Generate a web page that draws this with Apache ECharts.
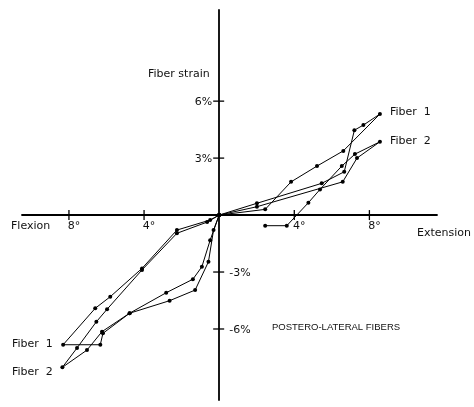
<!DOCTYPE html>
<html>
<head>
<meta charset="utf-8">
<script src="https://cdn.jsdelivr.net/npm/echarts@6/dist/echarts.min.js"></script>
<style>
html,body{margin:0;padding:0;background:#fff;}
#chart{width:474px;height:407px;}
</style>
</head>
<body>
<div id="chart"></div>
<script>
// Fiber 1: extension loop then flexion loop (x = degrees, negative = flexion; y = strain %)
var fiber1 = [[0,0],[2.45,0.30],[3.83,1.75],[5.21,2.58],[6.61,3.38],[8.56,5.32],[7.68,4.74],[7.20,4.47],[6.66,2.28],[5.46,1.67],[2.01,0.62],[0,0],
  [-0.48,-0.26],[-2.25,-0.79],[-4.11,-2.81],[-5.80,-4.30],[-6.60,-4.91],[-8.31,-6.83],[-6.33,-6.83],[-6.19,-6.23],[-4.77,-5.17],[-2.82,-4.09],[-1.40,-3.38],[-0.92,-2.72],[-0.48,-1.32],[0,0]];
var fiber2 = [[2.45,-0.56],[3.60,-0.56],[4.75,0.65],[5.37,1.35],[6.53,2.58],[7.23,3.21],[8.56,3.86],[7.34,3.00],[6.58,1.75],[2.01,0.44],[0,0],
  [-0.64,-0.37],[-2.25,-0.96],[-4.11,-2.89],[-5.97,-4.96],[-6.54,-5.62],[-7.57,-7.00],[-8.35,-8.02],[-7.04,-7.11],[-6.24,-6.14],[-4.77,-5.17],[-2.64,-4.51],[-1.28,-3.95],[-0.57,-2.46],[-0.30,-0.79],[0,0]];
var xTicks = [-8,-4,4,8];
var xTickLabels = ['8°','4°','4°','8°'];
var yTicks = [6,3,-3,-6];
var yTickLabels = ['6%','3%','-3%','-6%'];

var FONT = '"DejaVu Sans", "Liberation Sans", Arial, sans-serif';
var chart = echarts.init(document.getElementById('chart'), null, {renderer:'canvas'});

function tickSeries(vals, labels, isX){
  return {
    type:'custom', silent:true, z:5,
    data: vals.map(function(v,i){return [v,i];}),
    renderItem: function(params, api){
      var v = api.value(0), i = api.value(1);
      var p = isX ? api.coord([v,0]) : api.coord([0,v]);
      var children = [];
      if(isX){
        children.push({type:'line', shape:{x1:p[0],y1:p[1]-5,x2:p[0],y2:p[1]+5}, style:{stroke:'#000',lineWidth:1.3}});
        children.push({type:'text', style:{text:labels[i], x:p[0]+5, y:p[1]+11, textAlign:'center', textVerticalAlign:'middle', font:'11px '+FONT, fill:'#111'}});
      } else {
        children.push({type:'line', shape:{x1:p[0]-6,y1:p[1],x2:p[0]+5,y2:p[1]}, style:{stroke:'#000',lineWidth:1.3}});
        if(v>0){
          children.push({type:'text', style:{text:labels[i], x:p[0]-7, y:p[1]+1, textAlign:'right', textVerticalAlign:'middle', font:'11px '+FONT, fill:'#111'}});
        } else {
          children.push({type:'text', style:{text:labels[i], x:p[0]+10, y:p[1]+1, textAlign:'left', textVerticalAlign:'middle', font:'11px '+FONT, fill:'#111'}});
        }
      }
      return {type:'group', children:children};
    }
  };
}

var lineStyle = {color:'#000', width:1};
var option = {
  animation:false,
  backgroundColor:'#fff',
  grid:{left:22, right:37, top:10, bottom:7, containLabel:false},
  xAxis:{type:'value', min:-10.5, max:11.6, axisLine:{onZero:true, lineStyle:{color:'#000', width:1.8}}, axisTick:{show:false}, axisLabel:{show:false}, splitLine:{show:false}},
  yAxis:{type:'value', min:-9.74, max:10.8, axisLine:{onZero:true, lineStyle:{color:'#000', width:1.8}}, axisTick:{show:false}, axisLabel:{show:false}, splitLine:{show:false}},
  series:[
    {name:'Fiber 1', type:'line', data:fiber1, symbol:'circle', symbolSize:4, showSymbol:true, itemStyle:{color:'#000'}, lineStyle:lineStyle, z:3},
    {name:'Fiber 2', type:'line', data:fiber2, symbol:'circle', symbolSize:4, showSymbol:true, itemStyle:{color:'#000'}, lineStyle:lineStyle, z:3},
    tickSeries(xTicks, xTickLabels, true),
    tickSeries(yTicks, yTickLabels, false)
  ],
  graphic:[
    {type:'text', left:148, top:69, style:{text:'Fiber strain', font:'11px '+FONT, fill:'#111'}},
    {type:'text', left:390, top:107, style:{text:'Fiber  1', font:'11px '+FONT, fill:'#111'}},
    {type:'text', left:390, top:136, style:{text:'Fiber  2', font:'11px '+FONT, fill:'#111'}},
    {type:'text', left:11, top:221, style:{text:'Flexion', font:'11px '+FONT, fill:'#111'}},
    {type:'text', left:417, top:228, style:{text:'Extension', font:'11px '+FONT, fill:'#111'}},
    {type:'text', left:272, top:322, style:{text:'POSTERO-LATERAL FIBERS', font:'9.5px "Liberation Sans", Arial, sans-serif', fill:'#111'}},
    {type:'text', left:12, top:339, style:{text:'Fiber  1', font:'11px '+FONT, fill:'#111'}},
    {type:'text', left:12, top:367, style:{text:'Fiber  2', font:'11px '+FONT, fill:'#111'}}
  ]
};
chart.setOption(option);
</script>
</body>
</html>
